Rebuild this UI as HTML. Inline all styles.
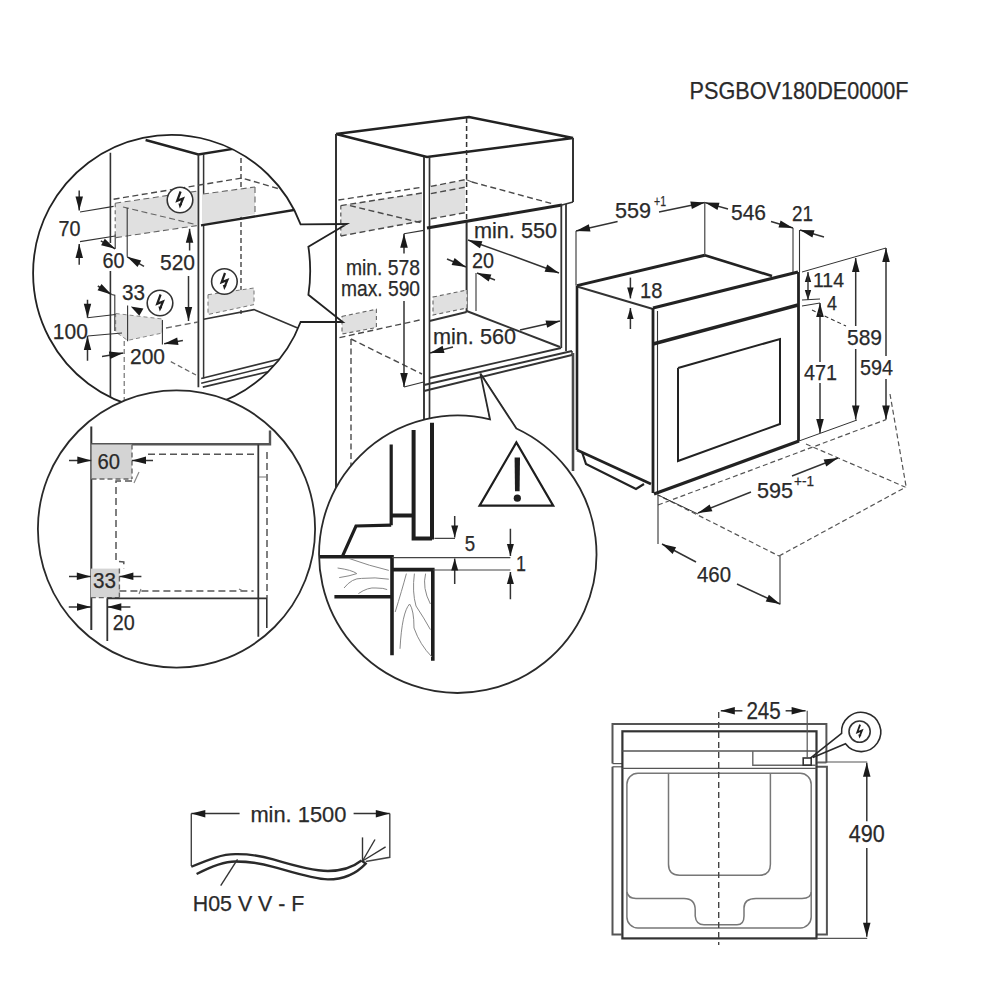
<!DOCTYPE html>
<html><head><meta charset="utf-8"><style>
html,body{margin:0;padding:0;background:#fff;}
svg{display:block;}
#wrap{width:1000px;height:1000px;overflow:hidden;}
text{font-family:"Liberation Sans",sans-serif;}
</style></head><body><div id="wrap">
<svg width="1000" height="1000" viewBox="0 0 1000 1000">
<defs>
<clipPath id="c1"><circle cx="171.3" cy="273.1" r="138"/></clipPath>
<clipPath id="c2"><circle cx="176.5" cy="529" r="138.5"/></clipPath>
<clipPath id="c3"><circle cx="458" cy="554.3" r="138.6"/></clipPath>
</defs>
<rect width="1000" height="1000" fill="#fff"/>
<text x="689.6" y="98.9" font-size="23.8" fill="#2a2a2a" stroke="#2a2a2a" stroke-width="0.25" text-anchor="start" textLength="219" lengthAdjust="spacingAndGlyphs">PSGBOV180DE0000F</text>
<polyline points="336,134 469,117 573,138 427,157 336,134" fill="none" stroke="#222" stroke-width="2.6" stroke-linejoin="miter"/>
<line x1="336" y1="134" x2="336" y2="490" stroke="#333" stroke-width="2.0" stroke-linecap="butt"/>
<line x1="424" y1="157" x2="424" y2="490" stroke="#333" stroke-width="1.9" stroke-linecap="butt"/>
<line x1="429.5" y1="157" x2="429.5" y2="490" stroke="#333" stroke-width="1.7" stroke-linecap="butt"/>
<line x1="573" y1="138" x2="573" y2="202" stroke="#333" stroke-width="2.0" stroke-linecap="butt"/>
<line x1="427" y1="228" x2="562" y2="205" stroke="#222" stroke-width="3.0" stroke-linecap="butt"/>
<line x1="562" y1="205" x2="573" y2="202" stroke="#333" stroke-width="1.6" stroke-linecap="butt"/>
<line x1="561.3" y1="205" x2="561.3" y2="348" stroke="#333" stroke-width="1.8" stroke-linecap="butt"/>
<line x1="566" y1="204" x2="566" y2="351" stroke="#333" stroke-width="1.8" stroke-linecap="butt"/>
<line x1="466.6" y1="118" x2="466.6" y2="222" stroke="#333" stroke-width="1.5" stroke-linecap="butt" stroke-dasharray="5,3"/>
<line x1="466.6" y1="222" x2="466.6" y2="312" stroke="#333" stroke-width="2.0" stroke-linecap="butt"/>
<line x1="429.5" y1="321" x2="466.6" y2="312" stroke="#333" stroke-width="1.9" stroke-linecap="butt"/>
<line x1="466.6" y1="311" x2="560" y2="347" stroke="#333" stroke-width="2.0" stroke-linecap="butt"/>
<line x1="429.5" y1="378" x2="561" y2="348" stroke="#333" stroke-width="1.8" stroke-linecap="butt"/>
<line x1="424" y1="385" x2="572" y2="351" stroke="#333" stroke-width="2.0" stroke-linecap="butt"/>
<line x1="424" y1="391" x2="572" y2="355" stroke="#333" stroke-width="2.0" stroke-linecap="butt"/>
<line x1="572" y1="351" x2="572" y2="355" stroke="#333" stroke-width="1.4" stroke-linecap="butt"/>
<line x1="573" y1="353" x2="573" y2="471" stroke="#4a4a4a" stroke-width="2.6" stroke-linecap="butt"/>
<polygon points="340.8,205.6 422,193 422,221 340.8,236" fill="#e0e0e0" stroke="#333" stroke-width="0" stroke-linejoin="miter"/>
<polyline points="338.4,200 422.4,187.2" fill="none" stroke="#4a4a4a" stroke-width="1.4" stroke-linejoin="miter" stroke-dasharray="6,3.5"/>
<polyline points="340.8,205.6 422,193" fill="none" stroke="#4a4a4a" stroke-width="1.4" stroke-linejoin="miter" stroke-dasharray="6,3.5"/>
<polyline points="340.8,236 422.4,220.8" fill="none" stroke="#4a4a4a" stroke-width="1.4" stroke-linejoin="miter" stroke-dasharray="6,3.5"/>
<polyline points="350,205.6 422,223" fill="none" stroke="#4a4a4a" stroke-width="1.4" stroke-linejoin="miter" stroke-dasharray="6,3.5"/>
<line x1="340.8" y1="205.6" x2="340.8" y2="236" stroke="#555" stroke-width="1.2" stroke-linecap="butt" stroke-dasharray="4,3"/>
<polygon points="430,186.4 465,180 465,212.5 430,218.8" fill="#e0e0e0" stroke="#333" stroke-width="0" stroke-linejoin="miter"/>
<polyline points="430.8,186.4 466,179.5" fill="none" stroke="#4a4a4a" stroke-width="1.4" stroke-linejoin="miter" stroke-dasharray="6,3.5"/>
<polyline points="430.8,193.6 466,187" fill="none" stroke="#4a4a4a" stroke-width="1.4" stroke-linejoin="miter" stroke-dasharray="6,3.5"/>
<polyline points="430.8,218.8 466,212.5" fill="none" stroke="#4a4a4a" stroke-width="1.4" stroke-linejoin="miter" stroke-dasharray="6,3.5"/>
<polyline points="472,182 551.4,203.5" fill="none" stroke="#4a4a4a" stroke-width="1.4" stroke-linejoin="miter" stroke-dasharray="6,3.5"/>
<polyline points="466,179.5 472,182" fill="none" stroke="#555" stroke-width="1.2" stroke-linejoin="miter"/>
<polygon points="342,316.4 376.4,309.2 376.4,327.6 342,334" fill="#e0e0e0" stroke="#666" stroke-width="1.1" stroke-linejoin="miter" stroke-dasharray="4,3"/>
<polyline points="339.5,337.6 422,319.5" fill="none" stroke="#4a4a4a" stroke-width="1.4" stroke-linejoin="miter" stroke-dasharray="6,3.5"/>
<line x1="351" y1="339" x2="351" y2="470" stroke="#4a4a4a" stroke-width="1.4" stroke-linecap="butt" stroke-dasharray="6,3.5"/>
<polyline points="351,339 422,374" fill="none" stroke="#4a4a4a" stroke-width="1.4" stroke-linejoin="miter" stroke-dasharray="6,3.5"/>
<polygon points="433,297 467,290 467,308 433,315" fill="#e0e0e0" stroke="#666" stroke-width="1.1" stroke-linejoin="miter" stroke-dasharray="4,3"/>
<text x="474" y="238" font-size="22.7" fill="#2a2a2a" stroke="#2a2a2a" stroke-width="0.25" text-anchor="start" textLength="83" lengthAdjust="spacingAndGlyphs">min. 550</text>
<line x1="513" y1="256" x2="468" y2="240" stroke="#333" stroke-width="1.5" stroke-linecap="butt"/>
<polygon points="468.0,240.0 482.4,241.2 479.9,248.2" fill="#1a1a1a"/>
<line x1="513" y1="256" x2="559" y2="273" stroke="#333" stroke-width="1.5" stroke-linecap="butt"/>
<polygon points="559.0,273.0 544.6,271.7 547.2,264.6" fill="#1a1a1a"/>
<text x="472" y="268" font-size="22.7" fill="#2a2a2a" stroke="#2a2a2a" stroke-width="0.25" text-anchor="start" textLength="22" lengthAdjust="spacingAndGlyphs">20</text>
<line x1="447" y1="259" x2="466" y2="267" stroke="#333" stroke-width="1.5" stroke-linecap="butt"/>
<polygon points="466.0,267.0 451.6,265.0 454.6,258.1" fill="#1a1a1a"/>
<line x1="495" y1="280" x2="477" y2="273" stroke="#333" stroke-width="1.5" stroke-linecap="butt"/>
<polygon points="477.0,273.0 491.4,274.6 488.7,281.6" fill="#1a1a1a"/>
<line x1="476" y1="273" x2="476" y2="311" stroke="#333" stroke-width="1.1" stroke-linecap="butt"/>
<text x="433" y="344" font-size="22.7" fill="#2a2a2a" stroke="#2a2a2a" stroke-width="0.25" text-anchor="start" textLength="83" lengthAdjust="spacingAndGlyphs">min. 560</text>
<line x1="453" y1="347" x2="430" y2="353" stroke="#333" stroke-width="1.5" stroke-linecap="butt"/>
<polygon points="430.0,353.0 442.6,345.8 444.5,353.1" fill="#1a1a1a"/>
<line x1="520" y1="330" x2="560" y2="321" stroke="#333" stroke-width="1.5" stroke-linecap="butt"/>
<polygon points="560.0,321.0 547.2,327.7 545.5,320.4" fill="#1a1a1a"/>
<text x="346" y="275" font-size="22.7" fill="#2a2a2a" stroke="#2a2a2a" stroke-width="0.25" text-anchor="start" textLength="74" lengthAdjust="spacingAndGlyphs">min. 578</text>
<text x="341" y="296" font-size="22.7" fill="#2a2a2a" stroke="#2a2a2a" stroke-width="0.25" text-anchor="start" textLength="79" lengthAdjust="spacingAndGlyphs">max. 590</text>
<line x1="404" y1="253.5" x2="404" y2="233.7" stroke="#333" stroke-width="1.5" stroke-linecap="butt"/>
<polygon points="404.0,233.7 407.8,247.7 400.2,247.7" fill="#1a1a1a"/>
<line x1="404" y1="233.7" x2="423.7" y2="230.4" stroke="#333" stroke-width="1.1" stroke-linecap="butt"/>
<line x1="404" y1="301" x2="404" y2="387" stroke="#333" stroke-width="1.5" stroke-linecap="butt"/>
<polygon points="404.0,387.0 400.2,373.0 407.8,373.0" fill="#1a1a1a"/>
<line x1="404" y1="387" x2="423.7" y2="382" stroke="#333" stroke-width="1.1" stroke-linecap="butt"/>
<line x1="482" y1="376" x2="490" y2="419" stroke="#333" stroke-width="1.4" stroke-linecap="butt"/>
<line x1="482" y1="376" x2="517" y2="430" stroke="#333" stroke-width="1.4" stroke-linecap="butt"/>
<polyline points="577,285.6 704.8,255.2" fill="none" stroke="#222" stroke-width="3.0" stroke-linejoin="miter"/>
<polyline points="704.8,255.2 772,276" fill="none" stroke="#222" stroke-width="2.6" stroke-linejoin="miter"/>
<polyline points="653,308 798,272" fill="none" stroke="#222" stroke-width="3.2" stroke-linejoin="miter"/>
<line x1="577" y1="286.5" x2="653" y2="309" stroke="#333" stroke-width="1.9" stroke-linecap="butt"/>
<line x1="577" y1="285.6" x2="577" y2="450" stroke="#222" stroke-width="2.6" stroke-linecap="butt"/>
<line x1="577" y1="450" x2="651" y2="484" stroke="#222" stroke-width="2.8" stroke-linecap="butt"/>
<polyline points="582,452 586,464 636,489 644,484" fill="none" stroke="#222" stroke-width="2.2" stroke-linejoin="miter"/>
<line x1="653" y1="308" x2="653" y2="493" stroke="#222" stroke-width="2.8" stroke-linecap="butt"/>
<line x1="657.5" y1="311" x2="657.5" y2="492" stroke="#333" stroke-width="1.1" stroke-linecap="butt"/>
<line x1="798.5" y1="272" x2="798.5" y2="441" stroke="#222" stroke-width="2.8" stroke-linecap="butt"/>
<line x1="653" y1="344" x2="798" y2="305" stroke="#222" stroke-width="3.4" stroke-linecap="butt"/>
<line x1="654" y1="494" x2="799" y2="441" stroke="#222" stroke-width="3.2" stroke-linecap="butt"/>
<polyline points="678,368 780,339 780,424 678,461 678,368" fill="none" stroke="#222" stroke-width="2.0" stroke-linejoin="miter"/>
<line x1="630.4" y1="277.6" x2="630.4" y2="298.4" stroke="#333" stroke-width="1.5" stroke-linecap="butt"/>
<polygon points="630.4,298.4 627.1,287.4 633.6,287.4" fill="#1a1a1a"/>
<line x1="630.4" y1="329" x2="630.4" y2="308" stroke="#333" stroke-width="1.5" stroke-linecap="butt"/>
<polygon points="630.4,308.0 633.6,319.0 627.1,319.0" fill="#1a1a1a"/>
<text x="640" y="297.6" font-size="22.7" fill="#2a2a2a" stroke="#2a2a2a" stroke-width="0.25" text-anchor="start" textLength="22.4" lengthAdjust="spacingAndGlyphs">18</text>
<line x1="576" y1="231" x2="576" y2="285.6" stroke="#333" stroke-width="1.1" stroke-linecap="butt"/>
<line x1="617.6" y1="221.6" x2="576" y2="231" stroke="#333" stroke-width="1.5" stroke-linecap="butt"/>
<polygon points="576.0,231.0 588.8,224.3 590.5,231.6" fill="#1a1a1a"/>
<line x1="659" y1="212" x2="704.8" y2="202.4" stroke="#333" stroke-width="1.5" stroke-linecap="butt"/>
<polygon points="704.8,202.4 691.9,208.9 690.3,201.6" fill="#1a1a1a"/>
<text x="615" y="218" font-size="22.7" fill="#2a2a2a" stroke="#2a2a2a" stroke-width="0.25" text-anchor="start" textLength="36" lengthAdjust="spacingAndGlyphs">559</text>
<text x="654" y="206" font-size="14.0" fill="#2a2a2a" stroke="#2a2a2a" stroke-width="0.25" text-anchor="start" textLength="12" lengthAdjust="spacingAndGlyphs">+1</text>
<line x1="704.8" y1="202.4" x2="704.8" y2="255.2" stroke="#333" stroke-width="1.1" stroke-linecap="butt"/>
<line x1="728" y1="209" x2="705" y2="202.6" stroke="#333" stroke-width="1.5" stroke-linecap="butt"/>
<polygon points="705.0,202.6 719.5,202.7 717.5,210.0" fill="#1a1a1a"/>
<line x1="771" y1="221.5" x2="793" y2="228" stroke="#333" stroke-width="1.5" stroke-linecap="butt"/>
<polygon points="793.0,228.0 778.5,227.6 780.6,220.4" fill="#1a1a1a"/>
<text x="731" y="220" font-size="22.7" fill="#2a2a2a" stroke="#2a2a2a" stroke-width="0.25" text-anchor="start" textLength="35" lengthAdjust="spacingAndGlyphs">546</text>
<line x1="793" y1="228" x2="793" y2="272" stroke="#333" stroke-width="1.1" stroke-linecap="butt"/>
<line x1="799.5" y1="230" x2="799.5" y2="272" stroke="#333" stroke-width="1.1" stroke-linecap="butt"/>
<line x1="824" y1="237" x2="800" y2="230" stroke="#333" stroke-width="1.5" stroke-linecap="butt"/>
<polygon points="800.0,230.0 814.5,230.3 812.4,237.5" fill="#1a1a1a"/>
<text x="792" y="221" font-size="22.7" fill="#2a2a2a" stroke="#2a2a2a" stroke-width="0.25" text-anchor="start" textLength="21" lengthAdjust="spacingAndGlyphs">21</text>
<polygon points="808.0,272.0 811.2,282.0 804.8,282.0" fill="#1a1a1a"/>
<polygon points="808.0,300.0 804.8,290.0 811.2,290.0" fill="#1a1a1a"/>
<line x1="808" y1="272" x2="808" y2="300" stroke="#333" stroke-width="1.4" stroke-linecap="butt"/>
<text x="813" y="287" font-size="19.4" fill="#2a2a2a" stroke="#2a2a2a" stroke-width="0.25" text-anchor="start" textLength="31" lengthAdjust="spacingAndGlyphs">114</text>
<line x1="802" y1="300" x2="820" y2="299" stroke="#333" stroke-width="1.0" stroke-linecap="butt"/>
<line x1="802" y1="306" x2="820" y2="303" stroke="#333" stroke-width="1.0" stroke-linecap="butt"/>
<text x="827" y="310" font-size="19.4" fill="#2a2a2a" stroke="#2a2a2a" stroke-width="0.25" text-anchor="start" textLength="10" lengthAdjust="spacingAndGlyphs">4</text>
<line x1="820" y1="362" x2="820" y2="303" stroke="#333" stroke-width="1.5" stroke-linecap="butt"/>
<polygon points="820.0,303.0 823.8,317.0 816.2,317.0" fill="#1a1a1a"/>
<line x1="820" y1="383" x2="820" y2="433" stroke="#333" stroke-width="1.5" stroke-linecap="butt"/>
<polygon points="820.0,433.0 816.2,419.0 823.8,419.0" fill="#1a1a1a"/>
<text x="804" y="380" font-size="22.7" fill="#2a2a2a" stroke="#2a2a2a" stroke-width="0.25" text-anchor="start" textLength="33" lengthAdjust="spacingAndGlyphs">471</text>
<line x1="855.7" y1="326" x2="855.7" y2="258" stroke="#333" stroke-width="1.5" stroke-linecap="butt"/>
<polygon points="855.7,258.0 859.5,272.0 852.0,272.0" fill="#1a1a1a"/>
<line x1="855.7" y1="349" x2="855.7" y2="419.6" stroke="#333" stroke-width="1.5" stroke-linecap="butt"/>
<polygon points="855.7,419.6 852.0,405.6 859.5,405.6" fill="#1a1a1a"/>
<text x="847" y="345" font-size="22.7" fill="#2a2a2a" stroke="#2a2a2a" stroke-width="0.25" text-anchor="start" textLength="35" lengthAdjust="spacingAndGlyphs">589</text>
<line x1="886" y1="356" x2="886" y2="248" stroke="#333" stroke-width="1.5" stroke-linecap="butt"/>
<polygon points="886.0,248.0 889.8,262.0 882.2,262.0" fill="#1a1a1a"/>
<line x1="886" y1="379" x2="886" y2="419.6" stroke="#333" stroke-width="1.5" stroke-linecap="butt"/>
<polygon points="886.0,419.6 882.2,405.6 889.8,405.6" fill="#1a1a1a"/>
<text x="860" y="375" font-size="22.7" fill="#2a2a2a" stroke="#2a2a2a" stroke-width="0.25" text-anchor="start" textLength="33" lengthAdjust="spacingAndGlyphs">594</text>
<line x1="802" y1="272" x2="886" y2="248" stroke="#333" stroke-width="1.0" stroke-linecap="butt"/>
<line x1="799" y1="441" x2="857" y2="420" stroke="#333" stroke-width="1.0" stroke-linecap="butt"/>
<line x1="812" y1="310" x2="846" y2="326" stroke="#333" stroke-width="1.1" stroke-linecap="butt" stroke-dasharray="4,3"/>
<line x1="656" y1="494" x2="779" y2="556" stroke="#555" stroke-width="1.2" stroke-linecap="butt" stroke-dasharray="5,3"/>
<line x1="658" y1="505" x2="886" y2="419.6" stroke="#555" stroke-width="1.2" stroke-linecap="butt" stroke-dasharray="5,3"/>
<line x1="806" y1="444" x2="905" y2="487" stroke="#555" stroke-width="1.2" stroke-linecap="butt" stroke-dasharray="5,3"/>
<line x1="890" y1="394" x2="906" y2="486" stroke="#555" stroke-width="1.2" stroke-linecap="butt" stroke-dasharray="5,3"/>
<line x1="779" y1="556" x2="906" y2="487" stroke="#555" stroke-width="1.2" stroke-linecap="butt" stroke-dasharray="5,3"/>
<line x1="658" y1="495" x2="658" y2="544" stroke="#333" stroke-width="1.1" stroke-linecap="butt"/>
<line x1="780" y1="556" x2="780" y2="604.5" stroke="#333" stroke-width="1.1" stroke-linecap="butt"/>
<line x1="658" y1="495" x2="698" y2="514" stroke="#333" stroke-width="1.0" stroke-linecap="butt"/>
<line x1="696" y1="562" x2="662" y2="544" stroke="#333" stroke-width="1.5" stroke-linecap="butt"/>
<polygon points="662.0,544.0 676.1,547.2 672.6,553.9" fill="#1a1a1a"/>
<line x1="737" y1="584" x2="780" y2="604" stroke="#333" stroke-width="1.5" stroke-linecap="butt"/>
<polygon points="780.0,604.0 765.7,601.5 768.9,594.7" fill="#1a1a1a"/>
<text x="697" y="582" font-size="22.7" fill="#2a2a2a" stroke="#2a2a2a" stroke-width="0.25" text-anchor="start" textLength="34" lengthAdjust="spacingAndGlyphs">460</text>
<line x1="751" y1="492" x2="698" y2="513" stroke="#333" stroke-width="1.5" stroke-linecap="butt"/>
<polygon points="698.0,513.0 709.6,504.4 712.4,511.3" fill="#1a1a1a"/>
<line x1="792" y1="476" x2="838" y2="458" stroke="#333" stroke-width="1.5" stroke-linecap="butt"/>
<polygon points="838.0,458.0 826.3,466.6 823.6,459.6" fill="#1a1a1a"/>
<text x="757" y="498" font-size="22.7" fill="#2a2a2a" stroke="#2a2a2a" stroke-width="0.25" text-anchor="start" textLength="36" lengthAdjust="spacingAndGlyphs">595</text>
<text x="794" y="486" font-size="14.0" fill="#2a2a2a" stroke="#2a2a2a" stroke-width="0.25" text-anchor="start" textLength="20" lengthAdjust="spacingAndGlyphs">+-1</text>
<g clip-path="url(#c1)">
<line x1="110.4" y1="152.8" x2="110.4" y2="243" stroke="#333" stroke-width="1.6" stroke-linecap="butt"/>
<line x1="110.4" y1="271" x2="110.4" y2="400" stroke="#333" stroke-width="1.6" stroke-linecap="butt"/>
<polyline points="145.6,140 198.4,154.4 300,138" fill="none" stroke="#222" stroke-width="2.4" stroke-linejoin="miter"/>
<line x1="198.4" y1="154.4" x2="198.4" y2="387.2" stroke="#333" stroke-width="1.8" stroke-linecap="butt"/>
<line x1="203.6" y1="154" x2="203.6" y2="378.4" stroke="#333" stroke-width="1.5" stroke-linecap="butt"/>
<line x1="241" y1="158" x2="241" y2="314" stroke="#333" stroke-width="1.3" stroke-linecap="butt" stroke-dasharray="5,3"/>
<polygon points="115.2,203.2 196.8,191.2 196.8,225.6 116,237.6" fill="#e0e0e0" stroke="#333" stroke-width="0" stroke-linejoin="miter"/>
<polygon points="203,194 255,187 255,214 203,225" fill="#e0e0e0" stroke="#333" stroke-width="0" stroke-linejoin="miter"/>
<polyline points="113.6,199.2 242,178 300,195" fill="none" stroke="#4a4a4a" stroke-width="1.4" stroke-linejoin="miter" stroke-dasharray="6,3.5"/>
<line x1="115.2" y1="203.2" x2="196.8" y2="191.2" stroke="#666" stroke-width="1.1" stroke-linecap="butt" stroke-dasharray="6,3.5"/>
<line x1="203" y1="194" x2="255" y2="187" stroke="#666" stroke-width="1.1" stroke-linecap="butt" stroke-dasharray="6,3.5"/>
<line x1="116" y1="237.6" x2="196.8" y2="225.6" stroke="#666" stroke-width="1.1" stroke-linecap="butt" stroke-dasharray="6,3.5"/>
<line x1="123" y1="207" x2="196.8" y2="224.8" stroke="#666" stroke-width="1.1" stroke-linecap="butt" stroke-dasharray="6,3.5"/>
<line x1="255" y1="187" x2="255" y2="214" stroke="#666" stroke-width="1.1" stroke-linecap="butt" stroke-dasharray="6,3.5"/>
<line x1="115.2" y1="203.2" x2="115.2" y2="236" stroke="#666" stroke-width="1.1" stroke-linecap="butt" stroke-dasharray="4,3"/>
<line x1="201" y1="225.4" x2="300" y2="209" stroke="#222" stroke-width="2.4" stroke-linecap="butt"/>
<polyline points="203.6,319.2 254,309.6 300,329" fill="none" stroke="#333" stroke-width="1.6" stroke-linejoin="miter"/>
<line x1="201.2" y1="378.4" x2="290" y2="356.5" stroke="#333" stroke-width="1.5" stroke-linecap="butt"/>
<line x1="201.2" y1="383.2" x2="290" y2="361.5" stroke="#333" stroke-width="1.5" stroke-linecap="butt"/>
<line x1="202.8" y1="387.2" x2="290" y2="366.5" stroke="#333" stroke-width="1.7" stroke-linecap="butt"/>
<polygon points="115.7,313.5 162.4,319 162.4,333 127.6,340.4 115.7,332" fill="#e0e0e0" stroke="#888" stroke-width="1.0" stroke-linejoin="miter" stroke-dasharray="4,3"/>
<line x1="127.6" y1="305.5" x2="127.6" y2="341.2" stroke="#333" stroke-width="1.1" stroke-linecap="butt"/>
<polygon points="208,294.7 254,288 254,304.6 208,314.5" fill="#e0e0e0" stroke="#777" stroke-width="1.0" stroke-linejoin="miter" stroke-dasharray="4,3"/>
<line x1="166" y1="328" x2="198" y2="322" stroke="#666" stroke-width="1.3" stroke-linecap="butt" stroke-dasharray="6,3.5"/>
<line x1="124.2" y1="341" x2="124.2" y2="400" stroke="#666" stroke-width="1.1" stroke-linecap="butt" stroke-dasharray="5,3"/>
<line x1="170.8" y1="361.6" x2="196" y2="375" stroke="#666" stroke-width="1.2" stroke-linecap="butt" stroke-dasharray="5,3"/>
<line x1="79.2" y1="190.4" x2="79.2" y2="210.4" stroke="#333" stroke-width="1.5" stroke-linecap="butt"/>
<polygon points="79.2,210.4 75.5,196.4 83.0,196.4" fill="#1a1a1a"/>
<line x1="79.2" y1="264.8" x2="79.2" y2="244" stroke="#333" stroke-width="1.5" stroke-linecap="butt"/>
<polygon points="79.2,244.0 83.0,258.0 75.5,258.0" fill="#1a1a1a"/>
<line x1="80" y1="212" x2="113.6" y2="206.4" stroke="#333" stroke-width="1.1" stroke-linecap="butt"/>
<line x1="80" y1="241.6" x2="115.2" y2="236" stroke="#333" stroke-width="1.1" stroke-linecap="butt"/>
<text x="58.4" y="236" font-size="22.7" fill="#2a2a2a" stroke="#2a2a2a" stroke-width="0.25" text-anchor="start" textLength="22" lengthAdjust="spacingAndGlyphs">70</text>
<line x1="127.2" y1="208" x2="127.2" y2="256.8" stroke="#333" stroke-width="1.1" stroke-linecap="butt"/>
<line x1="144" y1="266.4" x2="127.2" y2="256.8" stroke="#333" stroke-width="1.5" stroke-linecap="butt"/>
<polygon points="127.2,256.8 141.2,260.5 137.5,267.0" fill="#1a1a1a"/>
<line x1="115.2" y1="234.4" x2="115.2" y2="248.8" stroke="#333" stroke-width="1.1" stroke-linecap="butt"/>
<line x1="100.8" y1="240.8" x2="115.2" y2="248.8" stroke="#333" stroke-width="1.5" stroke-linecap="butt"/>
<polygon points="115.2,248.8 101.1,245.3 104.8,238.7" fill="#1a1a1a"/>
<text x="102.4" y="268" font-size="22.7" fill="#2a2a2a" stroke="#2a2a2a" stroke-width="0.25" text-anchor="start" textLength="22" lengthAdjust="spacingAndGlyphs">60</text>
<line x1="189.6" y1="250.4" x2="189.6" y2="228.8" stroke="#333" stroke-width="1.5" stroke-linecap="butt"/>
<polygon points="189.6,228.8 193.3,242.8 185.8,242.8" fill="#1a1a1a"/>
<line x1="188.5" y1="276" x2="188.5" y2="321" stroke="#333" stroke-width="1.5" stroke-linecap="butt"/>
<polygon points="188.5,321.0 184.8,307.0 192.2,307.0" fill="#1a1a1a"/>
<text x="160" y="270.4" font-size="22.7" fill="#2a2a2a" stroke="#2a2a2a" stroke-width="0.25" text-anchor="start" textLength="35" lengthAdjust="spacingAndGlyphs">520</text>
<line x1="97.8" y1="286" x2="111.4" y2="294.5" stroke="#333" stroke-width="1.5" stroke-linecap="butt"/>
<polygon points="111.4,294.5 97.5,290.3 101.5,283.9" fill="#1a1a1a"/>
<polygon points="130.8,306.4 143.4,308.4 139.3,315.8" fill="#1a1a1a"/>
<polyline points="111.4,294.5 114.8,295.3 114.8,331" fill="none" stroke="#333" stroke-width="1.1" stroke-linejoin="miter"/>
<text x="122" y="299.7" font-size="22.7" fill="#2a2a2a" stroke="#2a2a2a" stroke-width="0.25" text-anchor="start" textLength="23" lengthAdjust="spacingAndGlyphs">33</text>
<line x1="87.5" y1="299.7" x2="87.5" y2="317.8" stroke="#333" stroke-width="1.5" stroke-linecap="butt"/>
<polygon points="87.5,317.8 83.8,303.8 91.2,303.8" fill="#1a1a1a"/>
<line x1="87.5" y1="360.7" x2="87.5" y2="336" stroke="#333" stroke-width="1.5" stroke-linecap="butt"/>
<polygon points="87.5,336.0 91.2,350.0 83.8,350.0" fill="#1a1a1a"/>
<line x1="87.5" y1="317.8" x2="115.5" y2="314.5" stroke="#333" stroke-width="1.1" stroke-linecap="butt"/>
<line x1="87.5" y1="336" x2="122" y2="333" stroke="#333" stroke-width="1.1" stroke-linecap="butt"/>
<text x="52.8" y="339" font-size="22.7" fill="#2a2a2a" stroke="#2a2a2a" stroke-width="0.25" text-anchor="start" textLength="35" lengthAdjust="spacingAndGlyphs">100</text>
<line x1="102" y1="356.5" x2="123.3" y2="353" stroke="#333" stroke-width="1.5" stroke-linecap="butt"/>
<polygon points="123.3,353.0 110.1,359.0 108.9,351.6" fill="#1a1a1a"/>
<line x1="182.9" y1="340.4" x2="164.1" y2="343.8" stroke="#333" stroke-width="1.5" stroke-linecap="butt"/>
<polygon points="164.1,343.8 177.2,337.6 178.5,345.0" fill="#1a1a1a"/>
<line x1="162.4" y1="320" x2="162.4" y2="344.6" stroke="#333" stroke-width="1.1" stroke-linecap="butt"/>
<text x="130" y="364" font-size="22.7" fill="#2a2a2a" stroke="#2a2a2a" stroke-width="0.25" text-anchor="start" textLength="35" lengthAdjust="spacingAndGlyphs">200</text>
<circle cx="180" cy="200" r="12.8" fill="#fff" stroke="#333" stroke-width="1.6"/>
<path d="M180.6,191.5 L177.2,200.8 L183.0,198.4 L180.4,204.9" fill="none" stroke="#1e1e1e" stroke-width="2.2" stroke-linejoin="miter"/>
<polygon points="179.8,208.5 178.4,203.4 182.2,204.1" fill="#1e1e1e"/>
<circle cx="224.4" cy="281.5" r="12.8" fill="#fff" stroke="#333" stroke-width="1.6"/>
<path d="M225.0,273.0 L221.6,282.3 L227.4,279.9 L224.8,286.4" fill="none" stroke="#1e1e1e" stroke-width="2.2" stroke-linejoin="miter"/>
<polygon points="224.2,290.0 222.8,284.9 226.6,285.6" fill="#1e1e1e"/>
<circle cx="160" cy="303" r="12.8" fill="#fff" stroke="#333" stroke-width="1.6"/>
<path d="M160.6,294.5 L157.2,303.8 L163.0,301.4 L160.4,307.9" fill="none" stroke="#1e1e1e" stroke-width="2.2" stroke-linejoin="miter"/>
<polygon points="159.8,311.5 158.4,306.4 162.2,307.1" fill="#1e1e1e"/>
</g>
<path d="M300.6,224.4 A138.2,138.2 0 1 0 300.6,322 L342.8,322 L308.4,294.8 Q312,271 308.4,246.8 L346.8,224 Z" fill="none" stroke="#222" stroke-width="1.8" />
<circle cx="176.5" cy="529" r="138.6" fill="#fff" stroke="#2a2a2a" stroke-width="1.8"/>
<g clip-path="url(#c2)">
<line x1="91.3" y1="426.5" x2="91.3" y2="630" stroke="#333" stroke-width="2.0" stroke-linecap="butt"/>
<polyline points="91.3,444.2 270,444.2 270,430.5" fill="none" stroke="#555" stroke-width="2.4" stroke-linejoin="miter"/>
<line x1="258.3" y1="444.5" x2="258.3" y2="636.8" stroke="#333" stroke-width="1.8" stroke-linecap="butt"/>
<line x1="267" y1="452" x2="267" y2="598" stroke="#555" stroke-width="1.5" stroke-linecap="butt" stroke-dasharray="7,4"/>
<line x1="266.8" y1="598" x2="266.8" y2="628" stroke="#333" stroke-width="1.6" stroke-linecap="butt"/>
<line x1="148" y1="454.2" x2="258" y2="454.2" stroke="#555" stroke-width="1.5" stroke-linecap="butt" stroke-dasharray="7,4"/>
<rect x="91.5" y="444.5" width="40.5" height="34.5" fill="#d4d4d4"/>
<rect x="90.8" y="568.6" width="28.6" height="29" fill="#d4d4d4"/>
<line x1="132" y1="444.5" x2="132" y2="479" stroke="#666" stroke-width="1.4" stroke-linecap="butt" stroke-dasharray="5,3"/>
<line x1="91.5" y1="479" x2="132" y2="479" stroke="#666" stroke-width="1.4" stroke-linecap="butt" stroke-dasharray="5,3"/>
<polyline points="134,483 139,472" fill="none" stroke="#888" stroke-width="1.2" stroke-linejoin="miter"/>
<polyline points="132,481 116,481 116,561 123.8,562 123.8,568.6" fill="none" stroke="#555" stroke-width="1.5" stroke-linejoin="miter" stroke-dasharray="7,4"/>
<line x1="119.4" y1="568.6" x2="119.4" y2="597.6" stroke="#666" stroke-width="1.4" stroke-linecap="butt" stroke-dasharray="5,3"/>
<line x1="90.8" y1="597.6" x2="119.4" y2="597.6" stroke="#666" stroke-width="1.4" stroke-linecap="butt" stroke-dasharray="5,3"/>
<line x1="119.4" y1="591" x2="253.6" y2="591" stroke="#555" stroke-width="1.5" stroke-linecap="butt" stroke-dasharray="7,4"/>
<line x1="107.3" y1="598.3" x2="266.8" y2="598.3" stroke="#333" stroke-width="1.8" stroke-linecap="butt"/>
<line x1="107.3" y1="598.3" x2="107.3" y2="641" stroke="#333" stroke-width="1.8" stroke-linecap="butt"/>
<text x="97.5" y="468.5" font-size="22.7" fill="#2a2a2a" stroke="#2a2a2a" stroke-width="0.25" text-anchor="start" textLength="22.5" lengthAdjust="spacingAndGlyphs">60</text>
<text x="93" y="588.4" font-size="22.7" fill="#2a2a2a" stroke="#2a2a2a" stroke-width="0.25" text-anchor="start" textLength="23" lengthAdjust="spacingAndGlyphs">33</text>
<text x="112.8" y="630.2" font-size="22.7" fill="#2a2a2a" stroke="#2a2a2a" stroke-width="0.25" text-anchor="start" textLength="22" lengthAdjust="spacingAndGlyphs">20</text>
<line x1="69" y1="460.4" x2="91.3" y2="460.4" stroke="#333" stroke-width="1.5" stroke-linecap="butt"/>
<polygon points="91.3,460.4 77.3,464.1 77.3,456.6" fill="#1a1a1a"/>
<line x1="153" y1="460.4" x2="132" y2="460.4" stroke="#333" stroke-width="1.5" stroke-linecap="butt"/>
<polygon points="132.0,460.4 146.0,456.6 146.0,464.1" fill="#1a1a1a"/>
<line x1="69" y1="576.4" x2="90.8" y2="576.4" stroke="#333" stroke-width="1.5" stroke-linecap="butt"/>
<polygon points="90.8,576.4 76.8,580.1 76.8,572.6" fill="#1a1a1a"/>
<line x1="141.4" y1="576.4" x2="119.4" y2="576.4" stroke="#333" stroke-width="1.5" stroke-linecap="butt"/>
<polygon points="119.4,576.4 133.4,572.6 133.4,580.1" fill="#1a1a1a"/>
<line x1="68.8" y1="607" x2="91" y2="607" stroke="#333" stroke-width="1.5" stroke-linecap="butt"/>
<polygon points="91.0,607.0 77.0,610.8 77.0,603.2" fill="#1a1a1a"/>
<line x1="130.4" y1="607" x2="107.3" y2="607" stroke="#333" stroke-width="1.5" stroke-linecap="butt"/>
<polygon points="107.3,607.0 121.3,603.2 121.3,610.8" fill="#1a1a1a"/>
<polyline points="139,594 141,589" fill="none" stroke="#777" stroke-width="1.1" stroke-linejoin="miter"/>
<polyline points="239,589 243,591" fill="none" stroke="#777" stroke-width="1.1" stroke-linejoin="miter"/>
<line x1="259" y1="477" x2="266" y2="477" stroke="#777" stroke-width="1.1" stroke-linecap="butt"/>
</g>
<path d="M490,419.3 A138.7,138.7 0 1 0 516.4,428.5 L480.4,373.6 Z" fill="#fff" stroke="none"/>
<g clip-path="url(#c3)">
<line x1="432" y1="422.8" x2="432" y2="539.6" stroke="#1e1e1e" stroke-width="4.0" stroke-linecap="butt"/>
<polyline points="413.6,430 413.6,538.5 432,538.5" fill="none" stroke="#1e1e1e" stroke-width="4.0" stroke-linejoin="miter"/>
<line x1="391.2" y1="444.4" x2="391.2" y2="525.2" stroke="#1e1e1e" stroke-width="3.2" stroke-linecap="butt"/>
<line x1="391.2" y1="515.6" x2="413.6" y2="515.6" stroke="#1e1e1e" stroke-width="4.0" stroke-linecap="butt"/>
<polyline points="391.2,525.2 356,526 342.4,556.4" fill="none" stroke="#1e1e1e" stroke-width="3.2" stroke-linejoin="miter"/>
<polyline points="310,556.8 392,556.8 392,655.2" fill="none" stroke="#1e1e1e" stroke-width="3.6" stroke-linejoin="miter"/>
<line x1="334.4" y1="596.8" x2="392" y2="596.8" stroke="#1e1e1e" stroke-width="3.6" stroke-linecap="butt"/>
<polyline points="392,569.6 432.8,569.6 432.8,660.8" fill="none" stroke="#1e1e1e" stroke-width="3.6" stroke-linejoin="miter"/>
<line x1="392" y1="557.6" x2="510.4" y2="557.6" stroke="#444" stroke-width="1.2" stroke-linecap="butt"/>
<line x1="432.8" y1="570" x2="510.4" y2="570" stroke="#444" stroke-width="1.2" stroke-linecap="butt"/>
<line x1="434.4" y1="538.4" x2="455" y2="538.4" stroke="#444" stroke-width="1.2" stroke-linecap="butt"/>
<line x1="454.7" y1="516" x2="454.7" y2="537.6" stroke="#333" stroke-width="1.5" stroke-linecap="butt"/>
<polygon points="454.7,537.6 451.2,525.6 458.2,525.6" fill="#1a1a1a"/>
<line x1="454.7" y1="584" x2="454.7" y2="558.4" stroke="#333" stroke-width="1.5" stroke-linecap="butt"/>
<polygon points="454.7,558.4 458.2,570.4 451.2,570.4" fill="#1a1a1a"/>
<line x1="510.4" y1="528.8" x2="510.4" y2="556" stroke="#333" stroke-width="1.5" stroke-linecap="butt"/>
<polygon points="510.4,556.0 506.9,544.0 513.9,544.0" fill="#1a1a1a"/>
<line x1="510.4" y1="599.2" x2="510.4" y2="572" stroke="#333" stroke-width="1.5" stroke-linecap="butt"/>
<polygon points="510.4,572.0 513.9,584.0 506.9,584.0" fill="#1a1a1a"/>
<text x="464.8" y="551.2" font-size="21.6" fill="#2a2a2a" stroke="#2a2a2a" stroke-width="0.25" text-anchor="start" textLength="10.4" lengthAdjust="spacingAndGlyphs">5</text>
<text x="516" y="571.2" font-size="21.6" fill="#2a2a2a" stroke="#2a2a2a" stroke-width="0.25" text-anchor="start" textLength="10" lengthAdjust="spacingAndGlyphs">1</text>
<path d="M348.8,558.4 Q370,566 388.8,570.4" fill="none" stroke="#888" stroke-width="1.0" />
<path d="M337.6,568 Q352,570 356.8,573.6 Q350,576 339.2,577.6" fill="none" stroke="#888" stroke-width="1.0" />
<path d="M344,588 Q352,578 361.6,578.4 Q375,577 388.8,579.2" fill="none" stroke="#888" stroke-width="1.0" />
<path d="M358.4,593.6 Q368,587 376,588 Q384,588 387.2,589.6" fill="none" stroke="#888" stroke-width="1.0" />
<path d="M400,648.8 Q402,612 409.6,604 Q414,610 414,628 Q420,645 432,657" fill="none" stroke="#888" stroke-width="1.0" />
<path d="M395.2,612 Q402,590 406.4,573.6" fill="none" stroke="#888" stroke-width="1.0" />
<path d="M414.4,573.6 Q412,592 416,606 Q424,618 430.4,629.6" fill="none" stroke="#888" stroke-width="1.0" />
<path d="M425.6,573.6 Q422,588 430.4,604" fill="none" stroke="#888" stroke-width="1.0" />
<polygon points="516.4,442.4 479.6,505.6 553.2,505.6" fill="none" stroke="#1e1e1e" stroke-width="2.2" stroke-linejoin="miter"/>
<polygon points="514.6,457.6 520,457.6 519.6,491.2 515,491.2" fill="#1e1e1e"/>
<circle cx="517.3" cy="498.2" r="3.6" fill="#1e1e1e"/>
</g>
<path d="M490,419.3 A138.7,138.7 0 1 0 516.4,428.5 L480.4,373.6 Z" fill="none" stroke="#2a2a2a" stroke-width="1.8" stroke-linejoin="miter"/>
<polyline points="612.5,763.6 612.5,724 826.4,724 826.4,762.8" fill="none" stroke="#555" stroke-width="2.0" stroke-linejoin="miter"/>
<polyline points="612.5,766.8 612.5,934.4 621.6,934.4" fill="none" stroke="#555" stroke-width="2.0" stroke-linejoin="miter"/>
<line x1="612.5" y1="763.6" x2="622" y2="763.6" stroke="#555" stroke-width="1.2" stroke-linecap="butt"/>
<line x1="612.5" y1="766.8" x2="622" y2="766.8" stroke="#555" stroke-width="1.2" stroke-linecap="butt"/>
<polyline points="816.5,762.8 826.4,762.8" fill="none" stroke="#555" stroke-width="1.2" stroke-linejoin="miter"/>
<polyline points="816.5,766.8 826.9,766.8 826.9,934.4 816.5,934.4" fill="none" stroke="#555" stroke-width="2.0" stroke-linejoin="miter"/>
<rect x="622.4" y="731.3" width="194.1" height="207.1" fill="none" stroke="#333" stroke-width="2.2"/>
<line x1="622.4" y1="751" x2="816.5" y2="751" stroke="#555" stroke-width="1.6" stroke-linecap="butt"/>
<line x1="622.4" y1="768.4" x2="816.5" y2="768.4" stroke="#555" stroke-width="1.4" stroke-linecap="butt"/>
<polyline points="752.8,751 752.8,765.2 816.5,765.2" fill="none" stroke="#666" stroke-width="1.4" stroke-linejoin="miter"/>
<rect x="803.2" y="758" width="8" height="7.2" fill="none" stroke="#333" stroke-width="1.6"/>
<rect x="626.9" y="773.2" width="184.3" height="154.8" rx="11" ry="11" fill="none" stroke="#777" stroke-width="1.5"/>
<path d="M668.5,773.2 L668.5,864.2 Q668.5,875.2 679.5,875.2 L759.4,875.2 Q770.4,875.2 770.4,864.2 L770.4,773.2" fill="none" stroke="#777" stroke-width="1.5" />
<path d="M626.9,892 Q628,898.4 636,898.4 L684,898.4 Q695.2,898.4 695.2,910 L695.2,916 Q696,924.8 704,924.8 L737,924.8 Q744,924.8 744,916 L744,908 Q744,898.4 756,898.4 L802,898.4 Q811.2,898.4 811.2,892" fill="none" stroke="#777" stroke-width="1.5" />
<line x1="718.7" y1="712" x2="718.7" y2="945" stroke="#444" stroke-width="1.4" stroke-linecap="butt" stroke-dasharray="6,4"/>
<line x1="742.4" y1="710.8" x2="720.8" y2="710.8" stroke="#333" stroke-width="1.5" stroke-linecap="butt"/>
<polygon points="720.8,710.8 734.8,707.0 734.8,714.5" fill="#1a1a1a"/>
<line x1="785.6" y1="710.8" x2="805.6" y2="710.8" stroke="#333" stroke-width="1.5" stroke-linecap="butt"/>
<polygon points="805.6,710.8 791.6,714.5 791.6,707.0" fill="#1a1a1a"/>
<line x1="807.2" y1="710.8" x2="807.2" y2="758.8" stroke="#555" stroke-width="1.2" stroke-linecap="butt"/>
<text x="746.4" y="718.8" font-size="23.8" fill="#2a2a2a" stroke="#2a2a2a" stroke-width="0.25" text-anchor="start" textLength="34.4" lengthAdjust="spacingAndGlyphs">245</text>
<circle cx="859.6" cy="731.6" r="10.6" fill="#fff" stroke="#333" stroke-width="1.6"/>
<path d="M860.1,724.6 L857.3,732.3 L862.0,730.3 L859.9,735.7" fill="none" stroke="#1e1e1e" stroke-width="1.8" stroke-linejoin="miter"/>
<polygon points="859.4,738.6 858.3,734.5 861.4,735.0" fill="#1e1e1e"/>
<path d="M810.4,758.2 L841.6,733.5 A19.6,19.6 0 1 1 845.5,743.8 L812.8,757.5" fill="none" stroke="#2a2a2a" stroke-width="1.6" />
<line x1="816.8" y1="762" x2="867.2" y2="762" stroke="#555" stroke-width="1.2" stroke-linecap="butt"/>
<line x1="816.8" y1="938.4" x2="867.2" y2="938.4" stroke="#555" stroke-width="1.2" stroke-linecap="butt"/>
<line x1="866.8" y1="821.2" x2="866.8" y2="762.8" stroke="#333" stroke-width="1.5" stroke-linecap="butt"/>
<polygon points="866.8,762.8 870.5,776.8 863.0,776.8" fill="#1a1a1a"/>
<line x1="866.8" y1="848" x2="866.8" y2="936.8" stroke="#333" stroke-width="1.5" stroke-linecap="butt"/>
<polygon points="866.8,936.8 863.0,922.8 870.5,922.8" fill="#1a1a1a"/>
<text x="848.8" y="842.4" font-size="23.8" fill="#2a2a2a" stroke="#2a2a2a" stroke-width="0.25" text-anchor="start" textLength="36" lengthAdjust="spacingAndGlyphs">490</text>
<line x1="191.3" y1="813.6" x2="191.3" y2="866" stroke="#444" stroke-width="1.4" stroke-linecap="butt"/>
<polyline points="389.8,813.6 389.8,857.3 365.7,861.5" fill="none" stroke="#444" stroke-width="1.4" stroke-linejoin="miter"/>
<line x1="239.6" y1="813.6" x2="191.3" y2="813.6" stroke="#333" stroke-width="1.5" stroke-linecap="butt"/>
<polygon points="191.3,813.6 205.3,809.9 205.3,817.4" fill="#1a1a1a"/>
<line x1="353.6" y1="813.6" x2="389.8" y2="813.6" stroke="#333" stroke-width="1.5" stroke-linecap="butt"/>
<polygon points="389.8,813.6 375.8,817.4 375.8,809.9" fill="#1a1a1a"/>
<text x="250.4" y="822" font-size="22.7" fill="#2a2a2a" stroke="#2a2a2a" stroke-width="0.25" text-anchor="start" textLength="96" lengthAdjust="spacingAndGlyphs">min. 1500</text>
<path d="M191.3,866.8 C210,859 222,854.2 235.4,854.2 C250,854 262,856 273.2,859.4 C295,866 315,871 327.9,871 C340,871 352,868 361.5,860.5" fill="none" stroke="#2a2a2a" stroke-width="2.3" />
<path d="M196.6,874.1 C212,866 224,861.5 235.4,861.5 C250,861.5 262,863.5 273.2,866.8 C295,873 315,879.4 327.9,879.4 C342,879.4 356,874 365.7,863.6 L361.5,860.5" fill="none" stroke="#2a2a2a" stroke-width="2.3" />
<line x1="362.5" y1="861" x2="362.5" y2="837.4" stroke="#333" stroke-width="1.4" stroke-linecap="butt"/>
<line x1="362.5" y1="861" x2="375" y2="839.5" stroke="#333" stroke-width="1.4" stroke-linecap="butt"/>
<line x1="362.5" y1="861" x2="385.6" y2="846.8" stroke="#333" stroke-width="1.4" stroke-linecap="butt"/>
<line x1="237.5" y1="859.4" x2="220.7" y2="885.7" stroke="#333" stroke-width="1.4" stroke-linecap="butt"/>
<text x="192.8" y="910.8" font-size="22.7" fill="#2a2a2a" stroke="#2a2a2a" stroke-width="0.25" text-anchor="start" textLength="111.6" lengthAdjust="spacingAndGlyphs">H05 V V - F</text>
</svg></div></body></html>
